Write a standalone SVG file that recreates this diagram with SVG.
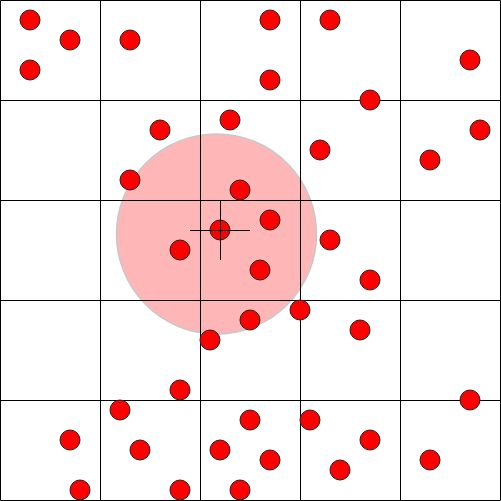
<svg xmlns="http://www.w3.org/2000/svg" width="501" height="501" viewBox="0 0 501 501">
<style>
.g{stroke:#000;stroke-width:1;fill:none}
.d{fill:#ff0000;stroke:#222;stroke-width:1}
.x{stroke:#000;stroke-width:1}
</style>
<rect width="501" height="501" fill="#fff"/>
<g id="range">
<circle cx="216.5" cy="234" r="100" fill="#ffb6b6" stroke="#c8c8c8" stroke-width="1.5"/>
</g>
<g id="grid">
<path class="g" d="M0.5 0.5H500.5V500.5H0.5Z M100.5 0V501 M200.5 0V501 M300.5 0V501 M400.5 0V501 M0 100.5H501 M0 200.5H501 M0 300.5H501 M0 400.5H501"/>
</g>
<g id="points">
<circle class="d" cx="30" cy="20" r="10"/>
<circle class="d" cx="70" cy="40" r="10"/>
<circle class="d" cx="30" cy="70" r="10"/>
<circle class="d" cx="130" cy="40" r="10"/>
<circle class="d" cx="270" cy="20" r="10"/>
<circle class="d" cx="330" cy="20" r="10"/>
<circle class="d" cx="270" cy="80" r="10"/>
<circle class="d" cx="470" cy="60" r="10"/>
<circle class="d" cx="370" cy="100" r="10"/>
<circle class="d" cx="230" cy="120" r="10"/>
<circle class="d" cx="160" cy="130" r="10"/>
<circle class="d" cx="480" cy="130" r="10"/>
<circle class="d" cx="320" cy="150" r="10"/>
<circle class="d" cx="430" cy="160" r="10"/>
<circle class="d" cx="130" cy="180" r="10"/>
<circle class="d" cx="240" cy="190" r="10"/>
<circle class="d" cx="270" cy="220" r="10"/>
<circle class="d" cx="220" cy="230" r="10"/>
<circle class="d" cx="180" cy="250" r="10"/>
<circle class="d" cx="330" cy="240" r="10"/>
<circle class="d" cx="260" cy="270" r="10"/>
<circle class="d" cx="370" cy="280" r="10"/>
<circle class="d" cx="300" cy="310" r="10"/>
<circle class="d" cx="250" cy="320" r="10"/>
<circle class="d" cx="360" cy="330" r="10"/>
<circle class="d" cx="210" cy="340" r="10"/>
<circle class="d" cx="180" cy="390" r="10"/>
<circle class="d" cx="470" cy="400" r="10"/>
<circle class="d" cx="120" cy="410" r="10"/>
<circle class="d" cx="250" cy="420" r="10"/>
<circle class="d" cx="310" cy="420" r="10"/>
<circle class="d" cx="70" cy="440" r="10"/>
<circle class="d" cx="140" cy="450" r="10"/>
<circle class="d" cx="220" cy="450" r="10"/>
<circle class="d" cx="370" cy="440" r="10"/>
<circle class="d" cx="270" cy="460" r="10"/>
<circle class="d" cx="340" cy="470" r="10"/>
<circle class="d" cx="430" cy="460" r="10"/>
<circle class="d" cx="80" cy="490" r="10"/>
<circle class="d" cx="180" cy="490" r="10"/>
<circle class="d" cx="240" cy="490" r="10"/>
</g>
<g id="crosshair">
<path class="x" d="M190 230.5H250 M220.5 200V260"/>
</g>
</svg>
